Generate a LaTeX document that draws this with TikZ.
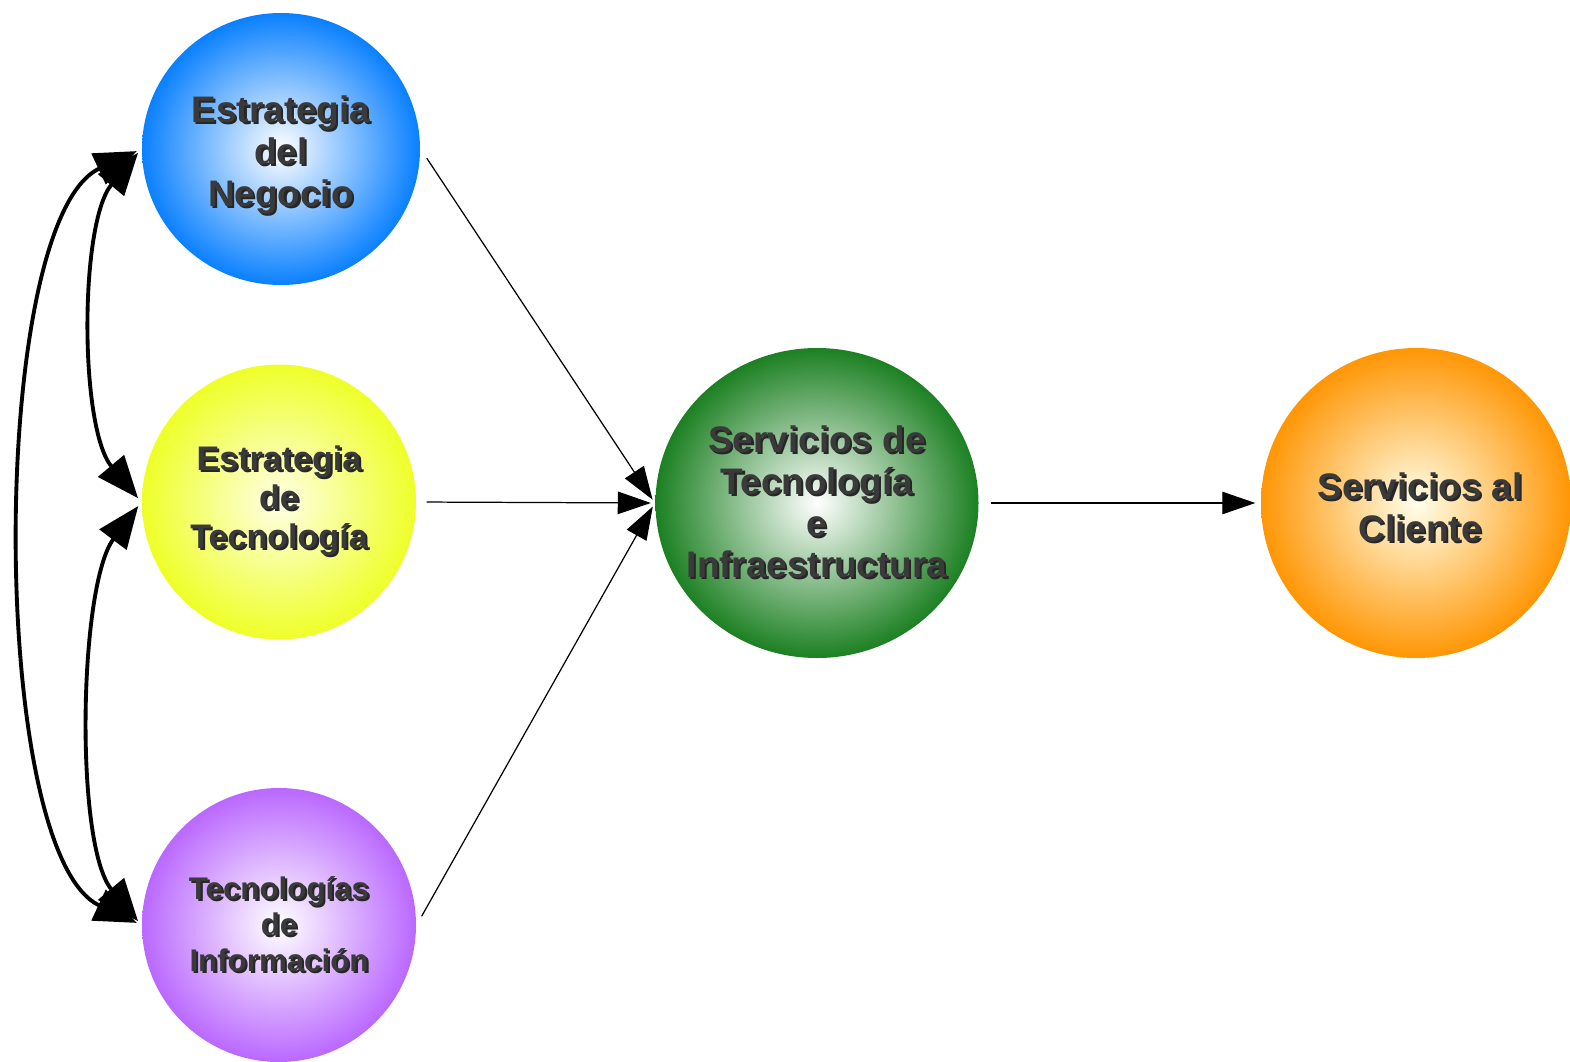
\documentclass[tikz,border=0pt]{standalone}
\usepackage{fontspec}
\setmainfont{Liberation Sans}
\usetikzlibrary{shapes.geometric,arrows.meta}

\definecolor{azulneg}{RGB}{10,128,255}
\definecolor{amarillotec}{RGB}{238,255,40}
\definecolor{moradoinf}{RGB}{186,104,255}
\definecolor{verdesrv}{RGB}{28,128,34}
\definecolor{naranjacli}{RGB}{255,150,5}
\definecolor{grisletra}{RGB}{58,58,58}

% text with a small drop shadow
\newcommand\sombra[1]{\leavevmode\rlap{\hspace{0.6pt}\raisebox{-0.6pt}{\color{black!85}#1}}#1}

\tikzset{
  bola/.style={ellipse,inner sep=0pt,shading=radial},
  rotulo/.style={align=center,text=grisletra},
  flecha/.style={-{Triangle[length=9.4pt,width=6.4pt]},line width=0.35pt},
  doble/.style={{Triangle[length=12pt,width=9.5pt]}-{Triangle[length=12pt,width=9.5pt]},line width=1.1pt}
}

\begin{document}
\begin{tikzpicture}
		\useasboundingbox (0,0) rectangle (15.70,10.61);

		% Estrategias (left column)
		\node[bola,inner color=white,outer color=azulneg,minimum width=2.78cm,minimum height=2.72cm,
			label={[rotulo,font={\fontsize{10.5}{11.9}\selectfont\bfseries},yshift=-0.07cm]center:{\sombra{Estrategia}\\\sombra{del}\\\sombra{Negocio}}}]
			(neg) at (2.81,9.12) {};
		\node[bola,inner color=white!90!yellow,outer color=amarillotec,minimum width=2.74cm,minimum height=2.75cm,
			label={[rotulo,font={\fontsize{9.7}{11.1}\selectfont\bfseries}]center:{\sombra{Estrategia}\\\sombra{de}\\\sombra{Tecnología}}}]
			(tec) at (2.79,5.59) {};
		\node[bola,inner color=white,outer color=moradoinf,minimum width=2.74cm,minimum height=2.74cm,
			label={[rotulo,font={\fontsize{8.9}{10.2}\selectfont\bfseries}]center:{\sombra{Tecnologías}\\\sombra{de}\\\sombra{Información}}}]
			(inf) at (2.79,1.36) {};

		% Servicios
		\node[bola,inner color=white,outer color=verdesrv,minimum width=3.23cm,minimum height=3.10cm,
			label={[rotulo,font={\fontsize{10.5}{11.9}\selectfont\bfseries}]center:{\sombra{Servicios de}\\\sombra{Tecnología}\\\sombra{e}\\\sombra{Infraestructura}}}]
			(srv) at (8.17,5.58) {};
		\node[bola,inner color=white!92!yellow,outer color=naranjacli,minimum width=3.10cm,minimum height=3.10cm,
			label={[rotulo,font={\fontsize{10.5}{11.9}\selectfont\bfseries},xshift=0.04cm,yshift=-0.05cm]center:{\sombra{Servicios al}\\\sombra{Cliente}}}]
			(cli) at (14.16,5.58) {};

		% Flows into the services
		\draw[flecha,shorten <=0.11cm,shorten >=0.04cm] (neg.east) -- (srv.west);
		\draw[flecha,shorten <=0.10cm,shorten >=0.04cm] (tec.east) -- (srv.west);
		\draw[flecha,shorten <=0.10cm,shorten >=0.04cm] (inf.east) -- (srv.west);
		\draw[flecha,shorten <=0.12cm,shorten >=0.05cm] (srv.east) -- (cli.west);

		% Links between the strategies
		\draw[doble,shorten <=0.5mm,shorten >=0.5mm] (neg.west) to[out=230,in=130,looseness=0.7] (tec.west);
		\draw[doble,shorten <=0.5mm,shorten >=0.5mm] (tec.west) to[out=233,in=130,looseness=0.63] (inf.west);
		\draw[doble,shorten <=0.5mm,shorten >=0.5mm] (neg.west) to[out=205,in=155,looseness=0.56] (inf.west);
	\end{tikzpicture}
\end{document}
